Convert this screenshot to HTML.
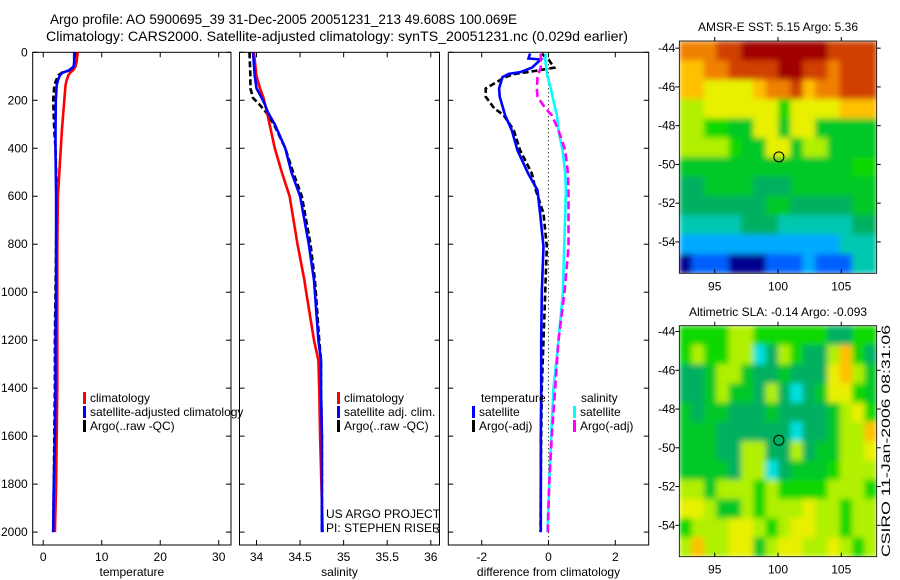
<!DOCTYPE html>
<html><head><meta charset="utf-8">
<style>
html,body{margin:0;padding:0;background:#fff;}
svg{display:block;font-family:"Liberation Sans",sans-serif;}
text{fill:#000;}
</style></head>
<body>
<svg id="fig" width="900" height="580" viewBox="0 0 900 580" xmlns="http://www.w3.org/2000/svg">
<defs>
<filter id="blur" x="0" y="0" width="1" height="1"><feGaussianBlur stdDeviation="3" edgeMode="duplicate"/></filter>
<clipPath id="clip1"><rect x="679.3" y="41" width="197.4" height="232.3"/></clipPath>
<clipPath id="clip2"><rect x="679.3" y="325.7" width="197.4" height="231"/></clipPath>
</defs>
<rect width="900" height="580" fill="#fff"/>
<text x="50" y="24" font-size="14" textLength="467" lengthAdjust="spacingAndGlyphs">Argo profile: AO 5900695_39 31-Dec-2005 20051231_213 49.608S 100.069E</text>
<text x="46" y="41" font-size="14" textLength="582" lengthAdjust="spacingAndGlyphs">Climatology: CARS2000. Satellite-adjusted climatology: synTS_20051231.nc (0.029d earlier)</text>
<g id="plots"></g>
<text x="778" y="31" font-size="12" text-anchor="middle">AMSR-E SST: 5.15 Argo: 5.36</text>
<text x="778" y="316" font-size="12" text-anchor="middle">Altimetric SLA: -0.14 Argo: -0.093</text>
<text transform="translate(890,557) rotate(-90)" font-size="12" textLength="232" lengthAdjust="spacingAndGlyphs">CSIRO 11-Jan-2006 08:31:06</text>
<text x="326" y="518" font-size="12">US ARGO PROJECT</text>
<text x="326" y="532" font-size="12">PI: STEPHEN RISER</text>
</svg>
<script>
// ---------- profile data ----------
const depthT = [0,40,60,75,85,96,117,138,200,325,400,600,800,1000,1200,1400,1600,1800,2000];
const tempClim = [5.9,5.7,5.5,5.1,4.6,4.3,4.0,3.8,3.6,3.2,3.0,2.5,2.4,2.4,2.4,2.4,2.3,2.2,2.0];
const tempSat  = [5.3,5.3,5.2,4.4,3.3,2.85,2.5,2.3,2.15,2.1,2.1,2.2,2.2,2.2,2.1,2.1,2.0,1.8,1.7];
const tempArgo = [5.6,5.5,5.3,4.6,3.2,2.6,2.2,1.9,1.7,1.9,2.1,2.3,2.2,2.1,2.0,2.0,1.9,1.8,1.7];

const depthS = [0,100,150,190,220,250,300,400,500,600,800,950,1000,1200,1284,1400,1600,2000];
const salClim = [33.97,34.0,34.04,34.08,34.1,34.12,34.15,34.21,34.29,34.38,34.47,34.55,34.57,34.66,34.71,34.72,34.73,34.76];
const salSat  = [33.96,33.98,34.0,34.06,34.1,34.13,34.21,34.33,34.4,34.5,34.6,34.66,34.67,34.71,34.74,34.74,34.75,34.75];
const salArgo = [33.92,33.93,33.93,33.96,34.04,34.11,34.2,34.33,34.42,34.52,34.62,34.67,34.68,34.72,34.74,34.74,34.75,34.75];

const depthD = [5,26,30,64,82,90,104,151,185,233,262,325,408,505,575,672,810,1000,1200,1400,1600,1800,2000];
const diffTSat  = [-0.55,-0.6,-0.23,-0.5,-0.83,-1.19,-1.38,-1.48,-1.46,-1.36,-1.3,-1.1,-0.93,-0.61,-0.33,-0.25,-0.15,-0.2,-0.22,-0.22,-0.23,-0.23,-0.23];
const diffTArgo = [-0.2,-0.05,0.0,0.17,-0.6,-1.0,-1.3,-1.88,-1.88,-1.63,-1.34,-1.04,-0.85,-0.5,-0.38,-0.15,-0.05,-0.1,-0.15,-0.2,-0.22,-0.23,-0.24];
const diffSSat  = [-0.08,-0.1,-0.1,-0.07,-0.05,-0.05,-0.02,0.07,0.12,0.2,0.25,0.3,0.42,0.5,0.52,0.5,0.47,0.43,0.3,0.15,0.08,0.02,-0.03];
const diffSArgo = [-0.23,-0.23,-0.23,-0.23,-0.28,-0.3,-0.33,-0.35,-0.33,-0.1,0.1,0.3,0.5,0.58,0.6,0.6,0.6,0.48,0.3,0.2,0.1,0.02,-0.02];

const depthTicks = [0,200,400,600,800,1000,1200,1400,1600,1800,2000];
const tempTicks = [0,10,20,30];
const salTicks = [34,34.5,35,35.5,36];
const salTickLabels = ["34","34.5","35","35.5","36"];
const diffTicks = [-2,0,2];
const diffTickLabels = ["-2","0","2"];

// ---------- map data (palette indices per row, north to south) ----------
const mapPalette = ["#000090","#0060ff","#00aaff","#00c8b0","#00b060","#00c828","#10d800","#b0f000","#e8f000","#ffc000","#f08000","#d04000","#a00000","#00e0e0"];
const sstRows = [
"aaabbcccccccbbbb","99aabbbbccbbabbb","9988889aab9aabbb","7788888868888999",
"7766558858855555","7777655885775555","5555555555555566","4455554445555555",
"4444444554444455","3333344433333344","2222222222222333","0111000111211133"];
const slaRows = [
"6666776666664466","676677d476447964","4457754454448975","445755474d458865",
"5455444544445786","555444444d445779","555447744745577d".replace("d","8"),"5555477d45556777",
"7757776766667776","8875576777877677","6777887678877677","7977885788778767"];

const NS = "http://www.w3.org/2000/svg";
const root = document.getElementById("plots");
function mk(tag, attrs, parent){ const e=document.createElementNS(NS,tag); for(const k in attrs) e.setAttribute(k,attrs[k]); (parent||root).appendChild(e); return e; }

const yTop=52.3, yBot=545;
const yD = d => yTop + d*0.2399;

function panel(name, x0, x1, vmin, vmax, ticks, labels, showY, xlabel){
  const g = mk("g",{});
  
  
  const sx = v => x0 + (v-vmin)/(vmax-vmin)*(x1-x0);
  ticks.forEach((t,i)=>{
    const x=sx(t);
    mk("line",{x1:x,y1:yBot,x2:x,y2:yBot-5,stroke:"#000"},g);
    mk("line",{x1:x,y1:yTop,x2:x,y2:yTop+5,stroke:"#000"},g);
    const tx=mk("text",{x:x,y:yBot+16,"font-size":12,"text-anchor":"middle"},g);
    
    
    tx.textContent=labels[i];
  });
  depthTicks.forEach(d=>{
    const y=yD(d);
    mk("line",{x1:x0,y1:y,x2:x0+5,y2:y,stroke:"#000"},g);
    mk("line",{x1:x1,y1:y,x2:x1-5,y2:y,stroke:"#000"},g);
    if(showY){
      const tx=mk("text",{x:x0-5,y:y+4,"font-size":12,"text-anchor":"end"},g);
      
      
      tx.textContent=d;
    }
  });
  const r=mk("rect",{x:x0,y:yTop,width:x1-x0,height:yBot-yTop,fill:"none",stroke:"#000","stroke-width":1},g);
  
  
  const xl=mk("text",{x:(x0+x1)/2,y:576,"font-size":12,"text-anchor":"middle"},g);
  
  
  xl.textContent=xlabel;
  return {g,sx};
}
function series(p, name, depths, vals, color, dash){
  const pts = vals.map((v,i)=>p.sx(v).toFixed(1)+","+yD(depths[i]).toFixed(1)).join(" ");
  const l=mk("polyline",{points:pts,fill:"none",stroke:color,"stroke-width":2.6,"stroke-dasharray":dash||"none"},p.g);
  
  
}
function legend(p, name, x, y, color, label){
  const b=mk("rect",{x:x,y:y-10,width:3,height:12,fill:color},p.g);
  
  
  const t=mk("text",{x:x+7,y:y,"font-size":12},p.g);
  
  
  t.textContent=label;
}

const p1 = panel("temperature-panel",32.7,231,-1.8,32.1,tempTicks,tempTicks.map(String),true,"temperature");
series(p1,"temp-argo-line",depthT,tempArgo,"#000","6,3");
series(p1,"temp-climatology-line",depthT,tempClim,"#f00");
series(p1,"temp-satellite-line",depthT,tempSat,"#00f");
legend(p1,"legend-climatology",83,402,"#f00","climatology");
legend(p1,"legend-satellite-adjusted",83,416,"#00f","satellite-adjusted climatology");
legend(p1,"legend-argo",83,430,"#000","Argo(..raw -QC)");

const p2 = panel("salinity-panel",239.5,439.5,33.805,36.1,salTicks,salTickLabels,false,"salinity");
series(p2,"sal-argo-line",depthS,salArgo,"#000","6,3");
series(p2,"sal-climatology-line",depthS,salClim,"#f00");
series(p2,"sal-satellite-line",depthS,salSat,"#00f");
legend(p2,"legend-sal-climatology",337,402,"#f00","climatology");
legend(p2,"legend-sal-satellite",337,416,"#00f","satellite adj. clim.");
legend(p2,"legend-sal-argo",337,430,"#000","Argo(..raw -QC)");

const p3 = panel("difference-panel",448.3,648.7,-3,3,diffTicks,diffTickLabels,false,"difference from climatology");
const zl=mk("line",{x1:p3.sx(0),y1:yTop,x2:p3.sx(0),y2:yBot,stroke:"#000","stroke-dasharray":"1,3"},p3.g);


series(p3,"diff-temp-argo-line",depthD,diffTArgo,"#000","6,3");
series(p3,"diff-temp-satellite-line",depthD,diffTSat,"#00f");
series(p3,"diff-sal-satellite-line",depthD,diffSSat,"#0ff");
series(p3,"diff-sal-argo-line",depthD,diffSArgo,"#f0f","8,4");
const lt1=mk("text",{x:481,y:402,"font-size":12},p3.g);


lt1.textContent="temperature";
const lt2=mk("text",{x:581,y:402,"font-size":12},p3.g);


lt2.textContent="salinity";
legend(p3,"legend-diff-temp-satellite",472,416,"#00f","satellite");
legend(p3,"legend-diff-temp-argo",472,430,"#000","Argo(-adj)");
legend(p3,"legend-diff-sal-satellite",573,416,"#0ff","satellite");
legend(p3,"legend-diff-sal-argo",573,430,"#f0f","Argo(-adj)");

const lonTicks=[95,100,105];
const latTicks=[-44,-46,-48,-50,-52,-54];
function drawMap(name, rows, clip, mx0, mx1, my0, my1, lat0, lat1){
  const g=mk("g",{});
  
  
  const lon0=92.2, lon1=107.8;
  const sx=v=>mx0+(v-lon0)/(lon1-lon0)*(mx1-mx0);
  const sy=v=>my0+(lat0-v)/(lat0-lat1)*(my1-my0);
  const cg=mk("g",{"clip-path":"url(#"+clip+")"},g);
  const img=mk("g",{filter:"url(#blur)"},cg);
  const nr=rows.length, nc=rows[0].length;
  const cw=(mx1-mx0)/nc, ch=(my1-my0)/nr;
  rows.forEach((row,ri)=>{
    for(let ci=0;ci<nc;ci++){
      const c=mk("rect",{x:mx0+ci*cw,y:my0+ri*ch,width:cw+0.5,height:ch+0.5,fill:mapPalette[parseInt(row[ci],16)]},img);
      
      
    }
  });
  lonTicks.forEach(t=>{
    const x=sx(t);
    mk("line",{x1:x,y1:my1,x2:x,y2:my1-4,stroke:"#000"},g);
    mk("line",{x1:x,y1:my0,x2:x,y2:my0-4,stroke:"#000"},g);
    const tx=mk("text",{x:x,y:my1+17,"font-size":12,"text-anchor":"middle"},g);
    
    
    tx.textContent=t;
  });
  latTicks.forEach(t=>{
    const y=sy(t);
    mk("line",{x1:mx0,y1:y,x2:mx0-4,y2:y,stroke:"#000"},g);
    mk("line",{x1:mx1,y1:y,x2:mx1+4,y2:y,stroke:"#000"},g);
    const tx=mk("text",{x:mx0-4,y:y+4,"font-size":12,"text-anchor":"end"},g);
    
    
    tx.textContent=t;
  });
  const c=mk("circle",{cx:sx(100.069),cy:sy(-49.608),r:5,fill:"none",stroke:"#000","stroke-width":1},g);
  
  
  mk("rect",{x:mx0,y:my0,width:mx1-mx0,height:my1-my0,fill:"none",stroke:"#000","stroke-width":0.8},g);
}
drawMap("sst-map",sstRows,"clip1",679.3,876.7,41,273.3,-43.63,-55.62);
drawMap("sla-map",slaRows,"clip2",679.3,876.7,325.7,556.7,-43.7,-55.62);
</script>
</body></html>
